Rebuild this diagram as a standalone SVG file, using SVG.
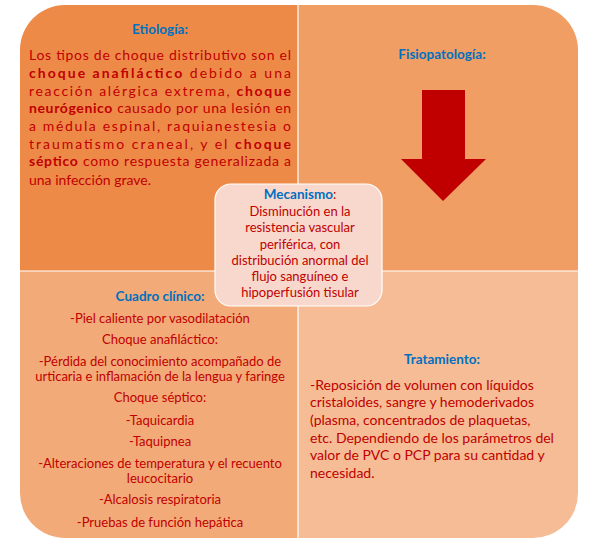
<svg xmlns="http://www.w3.org/2000/svg" width="602" height="544" viewBox="0 0 602 544">
<style>
text{font-family:Lato,"Open Sans","Liberation Sans",sans-serif;fill:#C00000;font-size:14px}
.t{fill:#0070C0;font-weight:bold;font-size:13.5px}
.c{text-anchor:middle}
.s{font-size:13px}
.b{font-weight:bold}
</style>
<defs><clipPath id="cp"><rect x="20" y="5" width="558" height="533" rx="45"/></clipPath></defs>
<g clip-path="url(#cp)">
<rect id="q1" x="20" y="5" width="278" height="266" fill="#EE8A48"/>
<rect id="q2" x="298" y="5" width="280" height="266" fill="#F09E64"/>
<rect id="q3" x="20" y="271" width="278" height="267" fill="#F2AA78"/>
<rect id="q4" x="298" y="271" width="280" height="267" fill="#F5BC95"/>
<g stroke="#fff" stroke-width="1.2"><line x1="298" y1="5" x2="298" y2="538"/><line x1="20" y1="271" x2="578" y2="271"/></g>
</g>
<g id="etiologia">
<text class="t c" x="160" y="34">Etiología:</text>
<text x="29" y="60" textLength="262" lengthAdjust="spacing">Los tipos de choque distributivo son el</text>
<text x="29" y="78" textLength="262" lengthAdjust="spacing"><tspan class="b">choque anafiláctico</tspan> debido a una</text>
<text x="29" y="96" textLength="262" lengthAdjust="spacing">reacción alérgica extrema, <tspan class="b">choque</tspan></text>
<text x="29" y="113" textLength="262" lengthAdjust="spacing"><tspan class="b">neurógenico</tspan> causado por una lesión en</text>
<text x="29" y="131" textLength="262" lengthAdjust="spacing">a médula espinal, raquianestesia o</text>
<text x="29" y="149" textLength="262" lengthAdjust="spacing">traumatismo craneal, y el <tspan class="b">choque</tspan></text>
<text x="29" y="166" textLength="262" lengthAdjust="spacing"><tspan class="b">séptico</tspan> como respuesta generalizada a</text>
<text x="29" y="185">una infección grave.</text>
</g>
<g id="fisiopatologia">
<text class="t c" x="442" y="59">Fisiopatología:</text>
<polygon points="422,90 465,90 465,159 486,159 443,201 401,159 422,159" fill="#C00000"/>
</g>
<g id="cuadro">
<text class="t c" x="160" y="301">Cuadro clínico:</text>
<g class="s">
<text class="c s" x="160" y="323">-Piel caliente por vasodilatación</text>
<text class="c s" x="160" y="344">Choque anafiláctico:</text>
<text class="c s" x="160" y="366">-Pérdida del conocimiento acompañado de</text>
<text class="c s" x="160" y="381">urticaria e inflamación de la lengua y faringe</text>
<text class="c s" x="160" y="402">Choque séptico:</text>
<text class="c s" x="160" y="425">-Taquicardia</text>
<text class="c s" x="160" y="446">-Taquipnea</text>
<text class="c s" x="160" y="468">-Alteraciones de temperatura y el recuento</text>
<text class="c s" x="160" y="483">leucocitario</text>
<text class="c s" x="160" y="504">-Alcalosis respiratoria</text>
<text class="c s" x="160" y="527">-Pruebas de función hepática</text>
</g>
</g>
<g id="tratamiento">
<text class="t c" x="442" y="364">Tratamiento:</text>
<text x="310" y="390">-Reposición de volumen con líquidos</text>
<text x="310" y="407">cristaloides, sangre y hemoderivados</text>
<text x="310" y="425">(plasma, concentrados de plaquetas,</text>
<text x="310" y="443">etc. Dependiendo de los parámetros del</text>
<text x="310" y="460">valor de PVC o PCP para su cantidad y</text>
<text x="310" y="478">necesidad.</text>
</g>
<g id="mecanismo">
<rect x="215" y="184" width="167" height="122" rx="16" fill="#F8D8CC" stroke="#fff" stroke-width="1.2"/>
<text class="c s" x="300" y="199"><tspan class="t">Mecanismo</tspan>:</text>
<text class="c s" x="300" y="216">Disminución en la</text>
<text class="c s" x="300" y="232">resistencia vascular</text>
<text class="c s" x="300" y="249">periférica, con</text>
<text class="c s" x="300" y="265">distribución anormal del</text>
<text class="c s" x="300" y="281">flujo sanguíneo  e</text>
<text class="c s" x="300" y="297">hipoperfusión tisular</text>
</g>
</svg>
